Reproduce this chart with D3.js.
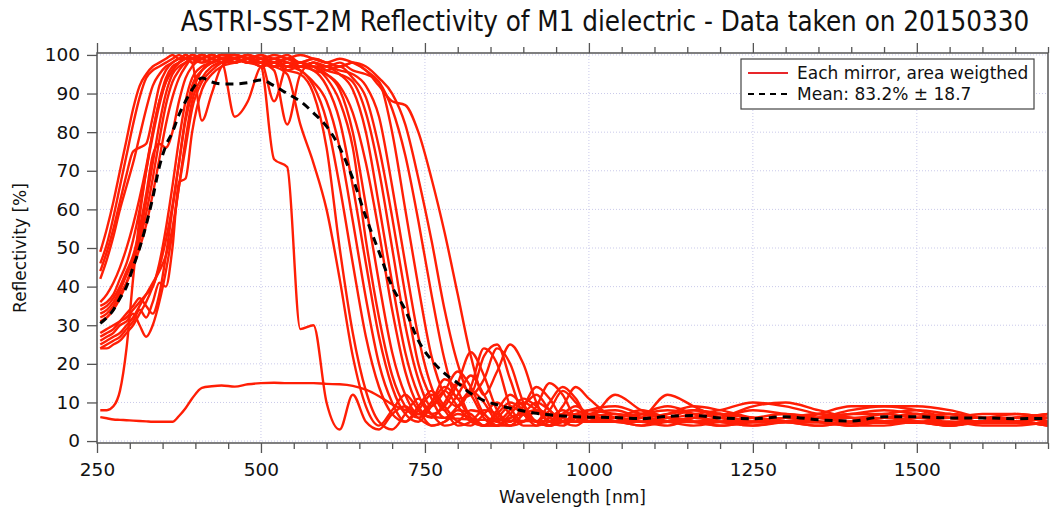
<!DOCTYPE html>
<html>
<head>
<meta charset="utf-8">
<script src="https://cdn.jsdelivr.net/npm/d3@7"></script>
<style>
  body { margin: 0; background: #fff; }
  svg { display: block; }
  text { font-family: "DejaVu Sans", Verdana, sans-serif; fill: #111; }
</style>
</head>
<body>
<svg id="chart" width="1050" height="510"></svg>
<script>
// wavelength grid [nm], shared by every curve
const wavelength = [255,265,275,285,295,305,315,325,335,345,355,365,375,385,395,410,425,440,
  460,480,500,520,540,560,580,600,620,640,660,680,700,720,740,760,780,800,820,840,860,880,900,920,940,960,980,1000,
  1040,1080,1120,1160,1200,1250,1300,1350,1400,1450,1500,1550,1600,1650,1700];

// reflectivity [%] of each mirror
const mirrorE1 = [49,55,62,70,78,86,92,95,97,98,99,100,99,100,99,98,99,100,
  100,99,100,99,100,98,99,98,97,98,97,94,90,82,68,52,34,20,12,16,24,20,10,5,8,13,10,6,
  5,7,9,7,5,6,7,6,5,6,7,6,6,7,6];
const mirrorE2 = [46,51,58,66,74,82,89,94,96,97,98,99,100,99,98,83,90,97,
  99,100,98,99,97,98,96,95,92,85,72,54,34,18,9,6,10,15,12,6,4,7,10,8,5,5,7,6,
  6,5,6,8,7,5,5,6,6,5,5,6,5,5,6];
const mirrorE3 = [44,49,55,62,69,75,76,77,84,92,96,98,99,100,99,98,99,100,
  99,98,98,88,97,96,92,83,66,46,27,14,7,5,9,13,9,5,4,7,10,7,4,4,6,8,6,5,
  6,8,6,5,4,5,6,5,4,5,5,4,5,5,4];
const mirrorE4 = [42,47,53,60,66,72,79,86,92,95,97,98,99,99,100,99,98,99,
  98,99,97,98,99,98,97,97,96,95,92,84,66,46,27,14,8,12,17,12,6,5,9,12,8,5,5,7,
  8,6,5,6,7,6,5,6,7,8,7,6,6,5,6];
const mirrorM1 = [36,38,41,45,50,56,63,71,80,88,94,97,98,99,100,99,98,99,
  99,100,99,98,99,100,99,98,99,98,96,92,88,87,80,68,54,38,22,12,18,25,20,10,5,9,14,11,
  6,5,7,9,8,6,5,7,9,9,8,6,5,6,7];
const mirrorM2 = [35,36,38,42,46,52,60,70,79,87,93,96,98,99,99,100,99,98,
  99,98,97,73,71,29,30,10,3,12,5,3,7,9,6,4,5,7,6,4,4,6,7,5,4,5,6,5,
  5,4,6,5,4,5,6,5,4,5,5,4,5,5,4];
const mirrorM3 = [34,35,37,40,44,48,55,64,74,77,76,80,88,94,97,99,100,99,
  98,99,98,97,95,82,72,60,42,22,9,4,8,12,8,4,5,8,7,4,4,6,7,5,4,5,6,5,
  5,4,5,6,5,4,5,5,4,4,5,5,4,4,5];
const mirrorM4 = [33,34,36,39,43,47,52,59,68,78,87,93,96,98,99,100,99,100,
  100,99,98,99,98,97,98,96,95,93,85,70,50,30,16,9,13,18,14,7,5,8,11,9,6,5,7,8,
  7,6,7,8,7,6,5,6,7,7,6,6,7,7,6];
const mirrorM5 = [32,33,35,38,41,45,50,56,64,73,82,89,94,97,99,99,100,99,
  98,99,97,98,96,97,97,95,91,80,61,41,23,12,7,10,14,11,6,4,7,10,8,5,4,6,8,6,
  5,6,5,4,5,6,5,4,5,6,5,4,5,5,4];
const mirrorM6 = [31,32,34,37,41,46,53,62,72,82,90,95,97,98,99,100,99,98,
  99,98,99,97,98,97,96,92,83,66,46,27,14,7,5,9,13,9,5,4,6,9,7,4,5,7,6,5,
  6,7,6,5,6,8,7,6,5,5,6,7,6,5,6];
const mirrorL1 = [28,29,30,31,32,34,36,38,40,46,55,66,78,88,94,97,98,99,
  99,100,99,100,99,98,99,98,97,98,96,93,86,74,57,38,21,11,12,22,25,16,7,5,10,14,11,6,
  12,8,6,7,8,10,9,7,6,7,8,7,6,6,7];
const mirrorL2 = [27,28,29,31,33,35,37,35,33,38,48,60,72,84,92,96,98,99,
  99,98,99,98,97,98,97,94,88,76,52,32,17,9,6,10,16,13,6,4,8,12,9,5,4,7,9,7,
  5,6,12,9,6,5,6,7,6,5,6,6,5,6,6];
const mirrorL3 = [26,27,28,30,31,33,30,27,30,36,44,54,66,78,88,94,97,98,
  84,88,97,98,96,95,90,76,50,28,13,5,3,7,11,7,4,5,8,7,4,4,7,8,5,4,6,7,
  6,5,4,6,7,6,5,4,5,6,5,4,5,6,5];
const mirrorL4 = [25,26,27,28,30,32,35,38,41,44,48,55,66,76,86,93,96,98,
  99,98,99,97,98,97,98,97,95,91,80,61,41,23,12,7,9,15,23,17,8,5,9,14,11,6,5,8,
  9,7,6,5,6,9,10,8,6,5,6,7,6,6,5];
const mirrorL5 = [24,25,26,27,29,31,34,32,36,41,40,50,67,68,80,91,95,97,
  98,99,98,97,98,96,93,88,76,57,37,20,10,5,8,12,8,4,5,8,7,4,5,8,7,5,5,6,
  5,6,5,6,7,6,5,6,8,9,9,8,6,5,6];
const mirrorL6 = [24,24,25,26,28,30,33,36,40,45,52,61,72,83,90,96,98,99,
  100,99,98,96,82,95,98,97,98,96,95,93,80,60,40,22,12,9,14,24,20,9,5,9,15,12,6,5,
  6,7,8,7,6,5,6,5,6,6,7,6,5,6,7];
const mirrorS1 = [8,8,9,13,24,42,58,70,80,88,93,96,98,99,98,99,100,99,
  98,99,100,98,99,97,98,96,97,94,89,76,58,38,20,11,6,9,13,10,5,4,7,10,8,5,4,6,
  7,6,5,6,5,4,5,6,5,5,6,5,5,6,5];
const mirrorS2 = [6.2,5.9,5.6,5.5,5.4,5.3,5.2,5.1,5,5,5,5,6.5,8.5,11,13.8,14.2,14.4,
  14.1,14.7,15,15.1,15,15,15,14.8,14.7,14.3,13.3,11.6,9.5,8,7,6.3,6,5.8,5.6,5.5,5.4,5.3,5.2,5.2,5.1,5.1,5,5,
  5,5,5,4.9,4.9,4.8,4.8,4.8,4.7,4.7,4.7,4.6,4.6,4.6,4.6];

// area weighted mean
const meanCurve = [30.5,32,34,37,40,45,50,56,63,71,76.5,80,84.5,88,91,94,93,92.5,
  92.5,92.8,93.5,92,90,88,85,81.5,76,68,58,49,40,34,26,21,17.5,15,12.3,10.5,9.4,8.5,7.8,7.2,6.8,6.5,6.3,6.2,
  6.1,5.8,6.4,6.6,6,5.8,6.3,5.5,5.2,6.3,6.3,6,6,5.8,5.9];

const mirrors = [mirrorE1, mirrorE2, mirrorE3, mirrorE4, mirrorM1, mirrorM2, mirrorM3, mirrorM4,
  mirrorM5, mirrorM6, mirrorL1, mirrorL2, mirrorL3, mirrorL4, mirrorL5, mirrorL6, mirrorS1, mirrorS2];

const xMajor = [250, 500, 750, 1000, 1250, 1500];
const xMinor = d3.range(250, 1701, 50).filter(v => v % 250 != 0);
const yMajor = [0,10,20,30,40,50,60,70,80,90,100];

const titleText = "ASTRI-SST-2M Reflectivity of M1 dielectric - Data taken on 20150330";
const legendLabels = ["Each mirror, area weigthed", "Mean: 83.2% \u00b1 18.7"];

const svg = d3.select("#chart");
const x = d3.scaleLinear().domain([250, 1700]).range([97, 1048]);
const y = d3.scaleLinear().domain([-0.5, 100.5]).range([443, 53]);
const plotL = x.range()[0], plotR = x.range()[1], plotT = y.range()[1], plotB = y.range()[0];
const axisCol = "#555";

// grid
let grid = svg.append("g").attr("stroke", "#c9c9ea").attr("stroke-width", 1).attr("stroke-dasharray", "1,2");
grid.selectAll("line.gx").data(xMajor.slice(1)).join("line")
  .attr("x1", d => x(d)).attr("x2", d => x(d)).attr("y1", plotT).attr("y2", plotB);
grid.selectAll("line.gy").data(yMajor).join("line")
  .attr("y1", d => y(d)).attr("y2", d => y(d)).attr("x1", plotL).attr("x2", plotR);

// curves
svg.append("clipPath").attr("id", "clip").append("rect")
  .attr("x", plotL).attr("y", plotT).attr("width", plotR - plotL).attr("height", plotB - plotT);

let lineGen = d3.line()
  .curve(d3.curveMonotoneX)
  .x((d, i) => x(wavelength[i]))
  .y(d => y(d));

let plot = svg.append("g").attr("clip-path", "url(#clip)");
plot.selectAll("path.mirror").data(mirrors).join("path")
  .attr("class", "mirror")
  .attr("d", lineGen)
  .attr("fill", "none")
  .attr("stroke", "#ff1e05")
  .attr("stroke-width", 2.4)
  .attr("stroke-linejoin", "round");

plot.append("path")
  .attr("d", lineGen(meanCurve))
  .attr("fill", "none")
  .attr("stroke", "#000")
  .attr("stroke-width", 3)
  .attr("stroke-dasharray", "8,6");

// axes
function styleAxis(g){
  g.select(".domain").remove();
  g.selectAll(".tick line").attr("stroke", axisCol).attr("stroke-width", 1.3);
  g.selectAll(".tick text").attr("fill", "#111").attr("font-family", "DejaVu Sans, Verdana, sans-serif");
}
svg.append("g").attr("transform", `translate(0,${plotB})`)
  .call(d3.axisBottom(x).tickValues(xMinor).tickSize(6).tickFormat(""))
  .call(styleAxis);
svg.append("g").attr("transform", `translate(0,${plotB})`)
  .call(d3.axisBottom(x).tickValues(xMajor).tickSize(10).tickPadding(10).tickFormat(d3.format("d")))
  .call(styleAxis)
  .selectAll("text").attr("font-size", 18.5);
svg.append("g").attr("transform", `translate(0,${plotT})`)
  .call(d3.axisTop(x).tickValues(xMinor).tickSize(6).tickFormat(""))
  .call(styleAxis);
svg.append("g").attr("transform", `translate(0,${plotT})`)
  .call(d3.axisTop(x).tickValues(xMajor).tickSize(10).tickFormat(""))
  .call(styleAxis);
svg.append("g").attr("transform", `translate(${plotL},0)`)
  .call(d3.axisLeft(y).tickValues(yMajor).tickSize(10).tickPadding(7).tickFormat(d3.format("d")))
  .call(styleAxis)
  .selectAll("text").attr("font-size", 18.5);

// frame
svg.append("rect")
  .attr("x", plotL).attr("y", plotT).attr("width", plotR - plotL).attr("height", plotB - plotT)
  .attr("fill", "none").attr("stroke", axisCol).attr("stroke-width", 1.5);

// axis titles
svg.append("text")
  .attr("transform", `translate(26,${(plotT + plotB) / 2}) rotate(-90)`)
  .attr("text-anchor", "middle").attr("font-size", 17)
  .text("Reflectivity [%]");
svg.append("text")
  .attr("x", (plotL + plotR) / 2).attr("y", 503)
  .attr("text-anchor", "middle").attr("font-size", 17)
  .text("Wavelength [nm]");

// title, sized to span the same width as the original
let title = svg.append("text")
  .attr("x", 605).attr("y", 31)
  .attr("text-anchor", "middle")
  .style("font-family", "'Liberation Sans Narrow', 'DejaVu Sans Condensed', sans-serif")
  .attr("font-size", 30)
  .text(titleText);
let tw = title.node().getComputedTextLength();
title.attr("font-size", 30 * 849 / tw);

// legend
let legend = svg.append("g");
legend.append("rect")
  .attr("x", 741).attr("y", 59).attr("width", 293).attr("height", 50)
  .attr("fill", "#fff").attr("stroke", "#444").attr("stroke-width", 1.2);
legend.append("line")
  .attr("x1", 748).attr("x2", 788).attr("y1", 73).attr("y2", 73)
  .attr("stroke", "#e8262a").attr("stroke-width", 2);
legend.append("line")
  .attr("x1", 748).attr("x2", 790).attr("y1", 94).attr("y2", 94)
  .attr("stroke", "#000").attr("stroke-width", 2).attr("stroke-dasharray", "6,5");
legend.selectAll("text.lg").data(legendLabels).join("text")
  .attr("class", "lg")
  .attr("x", 797).attr("y", (d, i) => 79 + i * 21)
  .attr("font-size", 17)
  .text(d => d);
</script>
</body>
</html>
